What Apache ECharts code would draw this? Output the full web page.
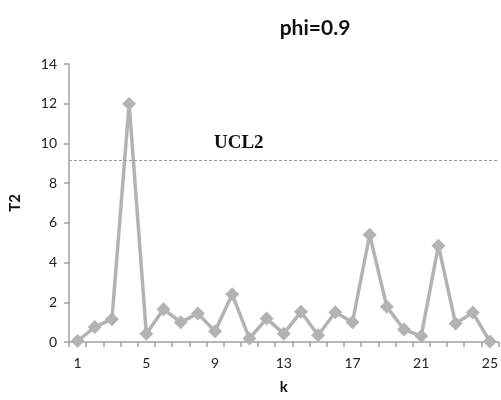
<!DOCTYPE html>
<html>
<head>
<meta charset="utf-8">
<script src="https://cdn.jsdelivr.net/npm/echarts@6/dist/echarts.min.js"></script>
<style>
  html, body { margin: 0; padding: 0; background: #fff; }
  #chart { width: 501px; height: 400px; }
</style>
</head>
<body>
<div id="chart"></div>
<script>
// T2 控制图 phi=0.9
const kLabels = Array.from({ length: 25 }, (_, i) => String(i + 1));
const t2Values = [0.05, 0.75, 1.15, 12.0, 0.42, 1.65, 1.0, 1.43, 0.54, 2.4,
                  0.17, 1.18, 0.42, 1.52, 0.34, 1.5, 1.0, 5.4, 1.77, 0.63,
                  0.3, 4.85, 0.93, 1.48, 0.02];
const ucl2 = 9.15;

const axisGray = '#a0a0a0';
const lineGray = '#b3b3b3';

const chart = echarts.init(document.getElementById('chart'));
chart.setOption({
  animation: false,
  title: {
    text: 'phi=0.9',
    left: 310, top: 13, textAlign: 'center',
    textStyle: { fontFamily: 'Lato', fontWeight: 'bold', fontSize: 21, color: '#111' }
  },
  grid: { left: 67, right: 1, top: 64, bottom: 58 },
  xAxis: {
    type: 'category',
    data: kLabels,
    boundaryGap: true,
    name: 'k',
    nameLocation: 'middle',
    nameGap: 38,
    nameTextStyle: { fontFamily: 'Lato', fontWeight: 'bold', fontSize: 15, color: '#111' },
    axisLine: { lineStyle: { color: axisGray, width: 1.5 } },
    axisTick: { show: true, interval: 0, length: 5, lineStyle: { color: axisGray, width: 1.5 } },
    axisLabel: { interval: 3, margin: 14, fontFamily: 'Lato', fontSize: 14, color: '#222' }
  },
  yAxis: {
    type: 'value',
    min: 0, max: 14, interval: 2,
    name: 'T2',
    nameLocation: 'middle',
    nameGap: 46,
    nameRotate: 90,
    nameTextStyle: { fontFamily: 'Lato', fontWeight: 'bold', fontSize: 15, color: '#111' },
    axisLine: { show: true, lineStyle: { color: axisGray, width: 1.5 } },
    axisTick: { show: true, length: 5, lineStyle: { color: axisGray, width: 1.5 } },
    splitLine: { show: false },
    axisLabel: { margin: 12, fontFamily: 'Lato', fontSize: 14, color: '#222' }
  },
  series: [{
    type: 'line',
    data: t2Values,
    symbol: 'diamond',
    symbolSize: 14,
    showAllSymbol: true,
    lineStyle: { color: lineGray, width: 3.5 },
    itemStyle: { color: lineGray },
    markLine: {
      silent: true,
      symbol: 'none',
      lineStyle: { color: '#999', type: [3, 2], width: 1 },
      label: {
        show: true,
        position: 'insideStartTop',
        formatter: 'UCL2',
        offset: [140, -3],
        fontFamily: 'Liberation Serif',
        fontWeight: 'bold',
        fontSize: 19,
        color: '#111'
      },
      data: [{ yAxis: ucl2 }]
    }
  }]
});
</script>
</body>
</html>
